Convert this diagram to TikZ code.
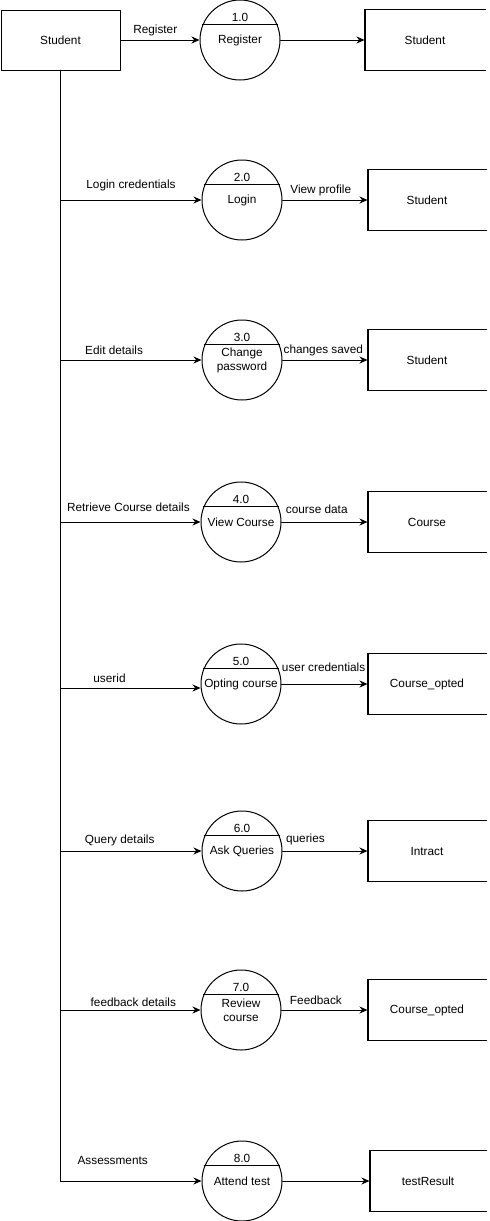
\documentclass[tikz,border=0pt]{standalone}
\usepackage{fontspec}
\setmainfont{Liberation Sans}
\usetikzlibrary{arrows.meta,calc,positioning}
\tikzset{%
       entity/.style = { draw, minimum width=119, minimum height=60, inner sep=0pt },
      process/.style = { draw, circle, minimum size=80, inner sep=0pt, align=center },
        store/.style = { minimum width=118, minimum height=60, inner sep=0pt },
    storeedge/.style = { line width=2pt, line cap=butt },
         flow/.style = { -{Stealth[length=8pt,width=7pt]} },
        trunk/.style = { line width=1.6pt },
          lbl/.style = { inner sep=0pt, anchor=center }
}
\begin{document}
\begin{tikzpicture}[x=1pt,y=-1pt,line width=1pt,line cap=round,line join=round,
  every node/.style={font=\fontsize{11.8}{14}\selectfont}]
\useasboundingbox (0,0) rectangle (490,1221);

% external entity
\node[entity] (ent) at (60.5,40) {Student};

% processes
\node[process] (p1) at (240,40) {Register};
\node[process] (p2) at (242,200) {Login};
\node[process] (p3) at (242,360) {Change\\password};
\node[process] (p4) at (241,522) {View Course};
\node[process] (p5) at (241,684) {Opting course};
\node[process] (p6) at (242,851) {Ask Queries};
\node[process] (p7) at (241,1010) {Review\\course};
\node[process] (p8) at (242,1181) {Attend test};

\draw (p1.158) -- (p1.22);  \node (n1) at ($(p1.center)+(0,-23)$) {1.0};
\draw (p2.158) -- (p2.22);  \node (n2) at ($(p2.center)+(0,-23)$) {2.0};
\draw (p3.158) -- (p3.22);  \node (n3) at ($(p3.center)+(0,-23)$) {3.0};
\draw (p4.158) -- (p4.22);  \node (n4) at ($(p4.center)+(0,-23)$) {4.0};
\draw (p5.158) -- (p5.22);  \node (n5) at ($(p5.center)+(0,-23)$) {5.0};
\draw (p6.158) -- (p6.22);  \node (n6) at ($(p6.center)+(0,-23)$) {6.0};
\draw (p7.158) -- (p7.22);  \node (n7) at ($(p7.center)+(0,-23)$) {7.0};
\draw (p8.158) -- (p8.22);  \node (n8) at ($(p8.center)+(0,-23)$) {8.0};

% data stores
\node[store,minimum width=120] (s1) at (425,40) {Student};
\node[store] (s2) at (427,200) {Student};
\node[store] (s3) at (427,360) {Student};
\node[store] (s4) at (427,522) {Course};
\node[store] (s5) at (427,684) {Course\_opted};
\node[store] (s6) at (427,851) {Intract};
\node[store] (s7) at (427,1010) {Course\_opted};
\node[store,minimum width=116] (s8) at (428,1181) {testResult};

\draw (s1.north east) -- (s1.north west) -- (s1.south west) -- (s1.south east);
\draw (s2.north east) -- (s2.north west) -- (s2.south west) -- (s2.south east);
\draw (s3.north east) -- (s3.north west) -- (s3.south west) -- (s3.south east);
\draw (s4.north east) -- (s4.north west) -- (s4.south west) -- (s4.south east);
\draw (s5.north east) -- (s5.north west) -- (s5.south west) -- (s5.south east);
\draw (s6.north east) -- (s6.north west) -- (s6.south west) -- (s6.south east);
\draw (s7.north east) -- (s7.north west) -- (s7.south west) -- (s7.south east);
\draw (s8.north east) -- (s8.north west) -- (s8.south west) -- (s8.south east);
\draw[storeedge] (s1.north west) -- (s1.south west);
\draw[storeedge] (s2.north west) -- (s2.south west);
\draw[storeedge] (s3.north west) -- (s3.south west);
\draw[storeedge] (s4.north west) -- (s4.south west);
\draw[storeedge] (s5.north west) -- (s5.south west);
\draw[storeedge] (s6.north west) -- (s6.south west);
\draw[storeedge] (s7.north west) -- (s7.south west);
\draw[storeedge] (s8.north west) -- (s8.south west);

% trunk from the student down to the last process
\coordinate (t2) at (ent.south |- p2);
\coordinate (t3) at (ent.south |- p3);
\coordinate (t4) at (ent.south |- p4);
\coordinate (t5) at ($(ent.south |- p5)+(0,4)$);
\coordinate (t6) at (ent.south |- p6);
\coordinate (t7) at (ent.south |- p7);
\coordinate (t8) at (ent.south |- p8);
\draw[trunk] (ent.south) -- (t8);

% flows into the processes
\draw[flow] (ent) -- (p1) node[lbl,pos=0.44,yshift=10pt] (f1) {Register};
\draw[flow] (t2) -- (p2) node[lbl,pos=0.5,yshift=15pt] (f2) {Login credentials};
\draw[flow] (t3) -- (p3) node[lbl,pos=0.38,yshift=10pt] (f3) {Edit details};
\draw[flow] (t4) -- (p4) node[lbl,pos=0.485,yshift=15pt] (f4) {Retrieve Course details};
\draw[flow] (t5) -- (t5 -| p5.west) node[lbl,pos=0.35,yshift=10pt] (f5) {userid};
\draw[flow] (t6) -- (p6) node[lbl,pos=0.42,yshift=11pt] (f6) {Query details};
\draw[flow] (t7) -- (p7) node[lbl,pos=0.52,yshift=8pt] (f7) {feedback details};
\draw[flow] (t8) -- (p8) node[lbl,pos=0.37,yshift=21pt] (f8) {Assessments};

% flows into the stores
\draw[flow] (p1) -- (s1);
\draw[flow] (p2) -- (s2) node[lbl,pos=0.45,yshift=10pt] (g2) {View profile};
\draw[flow] (p3) -- (s3) node[lbl,pos=0.48,yshift=10pt] (g3) {changes saved};
\draw[flow] (p4) -- (s4) node[lbl,pos=0.41,yshift=13pt] (g4) {course data};
\draw[flow] (p5) -- (s5) node[lbl,pos=0.49,yshift=17pt] (g5) {user credentials};
\draw[flow] (p6) -- (s6) node[lbl,pos=0.27,yshift=12pt] (g6) {queries};
\draw[flow] (p7) -- (s7) node[lbl,pos=0.4,yshift=10pt] (g7) {Feedback};
\draw[flow] (p8) -- (s8);
\end{tikzpicture}
\end{document}
